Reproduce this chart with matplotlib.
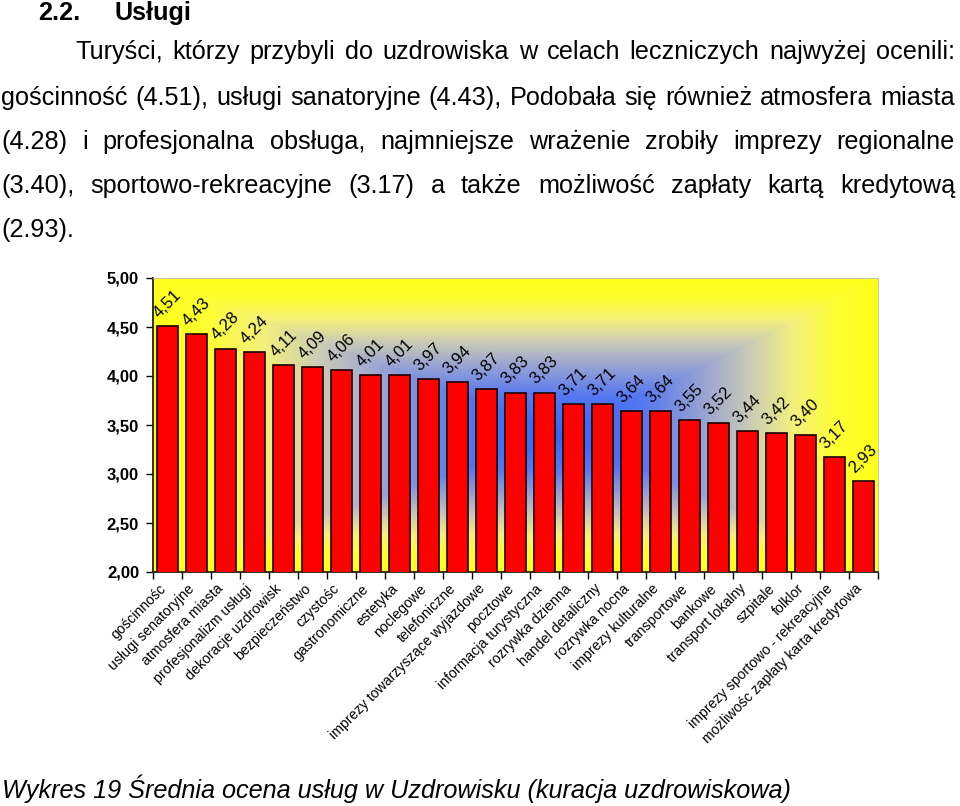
import numpy as np
import matplotlib
matplotlib.use("Agg")
import matplotlib.pyplot as plt
from matplotlib.transforms import Bbox, ScaledTranslation

plt.rcParams['font.family'] = ['Liberation Sans', 'DejaVu Sans']

categories = ["gościnnośc", "usługi senatoryjne", "atmosfera miasta", "profesjonalizm usługi",
              "dekoracje uzdrowisk", "bezpieczeństwo", "czystośc", "gastronomiczne", "estetyka",
              "noclegowe", "telefoniczne", "imprezy towarzyszące wyjazdowe", "pocztowe",
              "informacja turystyczna", "rozrywka dzienna", "handel detaliczny", "rozrywka nocna",
              "imprezy kulturalne", "transportowe", "bankowe", "transport lokalny", "szpitale",
              "folklor", "imprezy sportowo - rekreacyjne", "możliwośc zapłaty karta kredytowa"]
values = [4.51, 4.43, 4.28, 4.24, 4.11, 4.09, 4.06, 4.01, 4.01, 3.97, 3.94, 3.87, 3.83, 3.83,
          3.71, 3.71, 3.64, 3.64, 3.55, 3.52, 3.44, 3.42, 3.40, 3.17, 2.93]
yticks = [2.0, 2.5, 3.0, 3.5, 4.0, 4.5, 5.0]

heading_num = "2.2."
heading_txt = "Usługi"
para_lines = [
    "Turyści, którzy przybyli do uzdrowiska w celach leczniczych najwyżej ocenili:",
    "gościnność (4.51), usługi sanatoryjne (4.43), Podobała się również atmosfera miasta",
    "(4.28) i profesjonalna obsługa, najmniejsze wrażenie zrobiły imprezy regionalne",
    "(3.40), sportowo-rekreacyjne (3.17) a także możliwość zapłaty kartą kredytową",
    "(2.93).",
]
caption = "Wykres 19 Średnia ocena usług w Uzdrowisku (kuracja uzdrowiskowa)"

W, H = 960, 806
fig = plt.figure(figsize=(W / 100, H / 100), dpi=100)
fig.patch.set_facecolor('white')

L, R, T, B = 153, 878, 278, 572
ax = fig.add_axes([L / W, 1 - B / H, (R - L) / W, (B - T) / H])

# background gradient (rectangular "from centre" style)
nx, ny = R - L, B - T
xs = np.linspace(L, R, nx)
ys = np.linspace(T, B, ny)
X, Y = np.meshgrid(xs, ys)
cx, cy = 565, 435
dx = X - cx
dy = Y - cy
sx = np.where(dx < 0, cx - L, R - cx)
sy = np.where(dy < 0, cy - T, B - cy)
t = np.maximum(np.abs(dx) / sx, np.abs(dy) / sy)
stops = [0.0, 0.25, 0.45, 0.6, 0.73, 0.87, 1.0]
cols = np.array([(55, 100, 245), (85, 120, 240), (155, 165, 210), (205, 205, 180),
                 (243, 240, 125), (255, 255, 50), (255, 255, 25)]) / 255.0
img = np.dstack([np.interp(t, stops, cols[:, k]) for k in range(3)])
n = len(values)
ax.imshow(img, extent=(-0.5, n - 0.5, 2, 5), origin='upper', aspect='auto', zorder=0)

x = np.arange(n)
ax.bar(x, values, width=0.75, color='#ff0000', edgecolor='#1a0000', linewidth=1.2, zorder=3)
ax.set_xlim(-0.5, n - 0.5)
ax.set_ylim(2, 5)

for i, v in enumerate(values):
    ax.annotate(f"{v:.2f}".replace('.', ','), (i, v), xytext=(0, 16), textcoords='offset points',
                rotation=45, rotation_mode='anchor', ha='center', va='center', fontsize=12,
                color='black', zorder=5)

ax.set_yticks(yticks)
ax.set_yticklabels([f"{v:.2f}".replace('.', ',') for v in yticks], fontsize=12, fontweight='bold')
ax.tick_params(axis='y', direction='out', length=5, width=1, pad=5)

ax.set_xticks(x)
ax.set_xticklabels(categories, rotation=45, ha='right', rotation_mode='anchor', fontsize=10.2)
ax.set_xticks(np.arange(n + 1) - 0.5, minor=True)
ax.tick_params(axis='x', which='major', length=0, pad=7)
ax.tick_params(axis='x', which='minor', direction='out', length=5, width=1)

for side in ['left', 'bottom']:
    ax.spines[side].set_color('#222211')
    ax.spines[side].set_linewidth(1.3)
for side in ['top', 'right']:
    ax.spines[side].set_color('#c8c8a0')
    ax.spines[side].set_linewidth(0.8)

clip = Bbox.from_extents(0, H - 744, W, H)
shift = ScaledTranslation(-9 / 100, 0, fig.dpi_scale_trans)
for lab in ax.get_xticklabels():
    lab.set_transform(lab.get_transform() + shift)
    lab.set_clip_box(clip)
    lab.set_clip_on(True)

# text above and below
def fy(ypx):
    return 1 - ypx / H

FS = 18.2
fig.text(38 / W, fy(20), heading_num, fontsize=FS, fontweight='bold', va='baseline')
fig.text(115 / W, fy(20), heading_txt, fontsize=FS, fontweight='bold', va='baseline')

renderer = fig.canvas.get_renderer()
starts = [75, 1, 1, 1, 1]
baselines = [59, 105, 149, 193, 237]
xend = 955
for li, line in enumerate(para_lines):
    words = line.split(' ')
    texts = [fig.text(0, fy(baselines[li]), w, fontsize=FS, va='baseline') for w in words]
    widths = [tt.get_window_extent(renderer).width for tt in texts]
    if li < len(para_lines) - 1 and len(words) > 1:
        gap = (xend - starts[li] - sum(widths)) / (len(words) - 1)
    else:
        gap = FS * 0.278 * 100 / 72
    xp = starts[li]
    for tt, wd in zip(texts, widths):
        tt.set_x(xp / W)
        xp += wd + gap

fig.text(2 / W, fy(798), caption, fontsize=FS, fontstyle='italic', va='baseline')

fig.savefig('out.png', dpi=100, facecolor='white')
